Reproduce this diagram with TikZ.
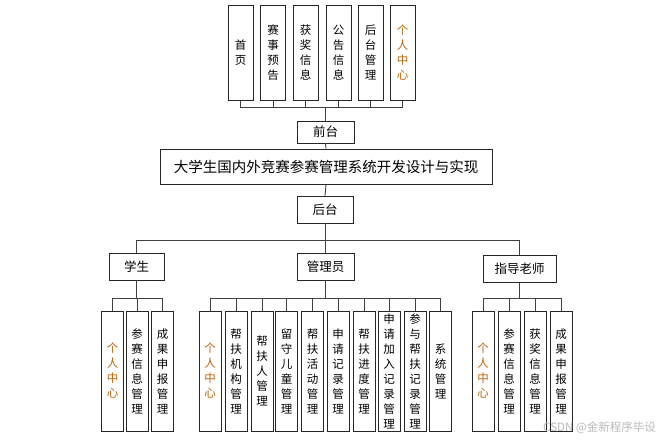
\documentclass[tikz,border=0pt]{standalone}
\usepackage{fontspec}
\setmainfont{Noto Sans CJK SC}
\definecolor{pcolor}{RGB}{190,100,10}
\begin{document}
\begin{tikzpicture}[x=1pt,y=-1pt,
  box/.style={draw=black!85,line width=0.9pt,fill=white,inner sep=0pt,align=center},
  vbox/.style={box,minimum width=22pt,minimum height=120pt,font=\fontsize{11.5pt}{15pt}\selectfont},
  tbox/.style={box,minimum width=25pt,minimum height=95pt,font=\fontsize{11.5pt}{15pt}\selectfont},
  lbox/.style={box,minimum height=27pt,font=\fontsize{12.5pt}{15pt}\selectfont},
  conn/.style={draw=black!75,line width=0.9pt},
  pc/.style={text=pcolor}]
\useasboundingbox (0,0) rectangle (664,441);
% top boxes
\node[tbox] (t1) at (240.5,52.5) {首\\页};
\node[tbox] (t2) at (273,52.5) {赛\\事\\预\\告};
\node[tbox] (t3) at (305.5,52.5) {获\\奖\\信\\息};
\node[tbox] (t4) at (338.5,52.5) {公\\告\\信\\息};
\node[tbox] (t5) at (370.5,52.5) {后\\台\\管\\理};
\node[tbox,pc] (t6) at (402.5,52.5) {个\\人\\中\\心};
\node[lbox,minimum width=57pt,minimum height=22pt] (front) at (325.5,132) {前台};
\node[box,minimum width=332pt,minimum height=35pt,font=\fontsize{14.5pt}{16pt}\selectfont] (title) at (326,166.5) {大学生国内外竞赛参赛管理系统开发设计与实现};
\node[lbox,minimum width=56pt] (back) at (325,209.5) {后台};
\node[lbox,minimum width=55pt] (stu) at (136.5,266.5) {学生};
\node[lbox,minimum width=57pt] (adm) at (325.5,266.5) {管理员};
\node[lbox,minimum width=73pt] (tea) at (519.5,269) {指导老师};
% student children
\node[vbox,pc] (s1) at (112.5,371) {个\\人\\中\\心};
\node[vbox] (s2) at (137,371) {参\\赛\\信\\息\\管\\理};
\node[vbox] (s3) at (162.5,371) {成\\果\\申\\报\\管\\理};
% admin children
\node[vbox,pc] (a1) at (210,371) {个\\人\\中\\心};
\node[vbox] (a2) at (236,371) {帮\\扶\\机\\构\\管\\理};
\node[vbox] (a3) at (262,371) {帮\\扶\\人\\管\\理};
\node[vbox] (a4) at (286.5,371) {留\\守\\儿\\童\\管\\理};
\node[vbox] (a5) at (312.5,371) {帮\\扶\\活\\动\\管\\理};
\node[vbox] (a6) at (338,371) {申\\请\\记\\录\\管\\理};
\node[vbox] (a7) at (364,371) {帮\\扶\\进\\度\\管\\理};
\node[vbox] (a8) at (389,371) {申\\请\\加\\入\\记\\录\\管\\理};
\node[vbox] (a9) at (415,371) {参\\与\\帮\\扶\\记\\录\\管\\理};
\node[vbox] (a10) at (440.5,371) {系\\统\\管\\理};
% teacher children
\node[vbox,pc] (r1) at (483,371) {个\\人\\中\\心};
\node[vbox] (r2) at (509,371) {参\\赛\\信\\息\\管\\理};
\node[vbox] (r3) at (535,371) {获\\奖\\信\\息\\管\\理};
\node[vbox] (r4) at (561,371) {成\\果\\申\\报\\管\\理};
% connectors top
\foreach \t in {t1,t2,t3,t4,t5,t6}
  \draw[conn] (\t.south) |- (front.north |- 0,107) -- (front.north);
\draw[conn] (front.south) -- (title.north);
\draw[conn] (title.south) -- (back.north);
\foreach \r in {stu,adm,tea}
  \draw[conn] (back.south) |- (\r.north |- 0,240) -- (\r.north);
\foreach \c in {s1,s2,s3}
  \draw[conn] (stu.south) |- (\c.north |- 0,298) -- (\c.north);
\foreach \c in {a1,a2,a3,a4,a5,a6,a7,a8,a9,a10}
  \draw[conn] (adm.south) |- (\c.north |- 0,298) -- (\c.north);
\foreach \c in {r1,r2,r3,r4}
  \draw[conn] (tea.south) |- (\c.north |- 0,298) -- (\c.north);
\node[text=gray!55,font=\fontsize{11.5pt}{13pt}\selectfont,anchor=east,inner sep=0pt] (wm) at (656,428) {CSDN @金新程序毕设};
\end{tikzpicture}
\end{document}
